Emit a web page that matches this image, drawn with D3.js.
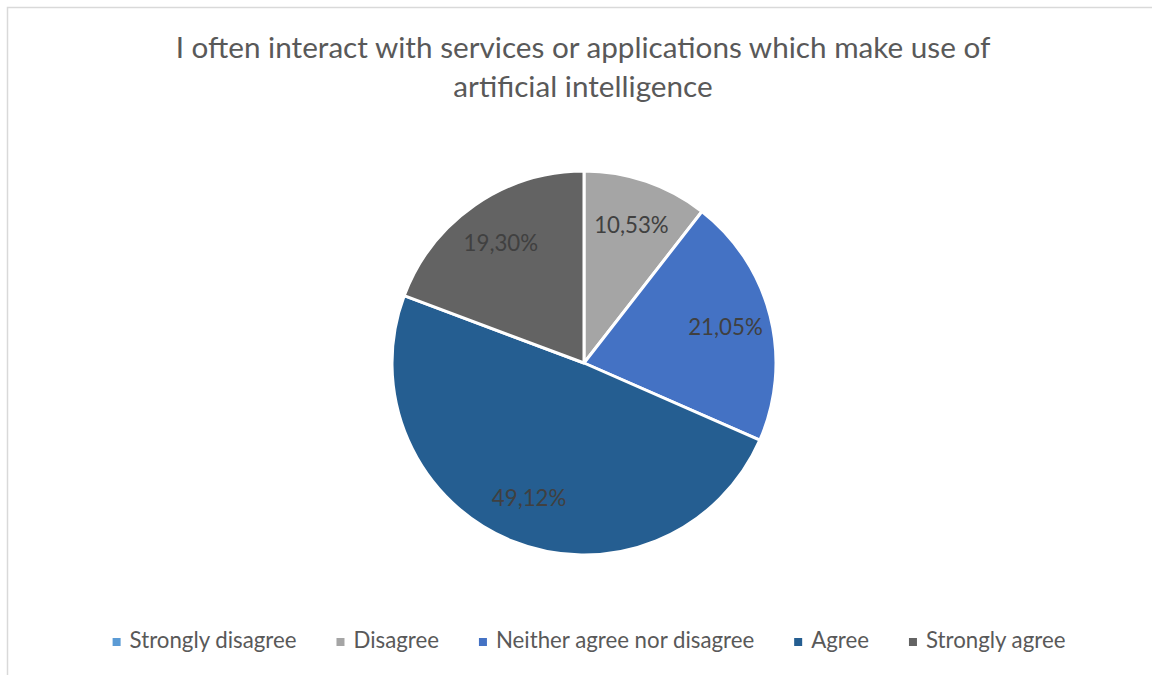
<!DOCTYPE html>
<html>
<head>
<meta charset="utf-8">
<script src="https://cdn.jsdelivr.net/npm/d3@7"></script>
<style>
  html, body { margin: 0; padding: 0; background: #ffffff; }
  svg { display: block; }
</style>
</head>
<body>
<svg id="chart" width="1152" height="675"></svg>
<script>
// Survey answers and their shares (%)
const categories = ["Strongly disagree", "Disagree", "Neither agree nor disagree", "Agree", "Strongly agree"];
const shares = [0, 10.53, 21.05, 49.12, 19.30];
const colors = ["#5B9BD5", "#A5A5A5", "#4472C4", "#255E91", "#636363"];
const titleLines = ["I often interact with services or applications which make use of", "artificial intelligence"];

const FONT = "Lato, 'Open Sans', sans-serif";
const W = 1152, H = 675;
const svg = d3.select("#chart");

// Outer chart-area frame
svg.append("rect")
  .attr("x", 7.5).attr("y", 7.5)
  .attr("width", W + 20).attr("height", H + 20)
  .attr("fill", "#ffffff")
  .attr("stroke", "#D9D9D9").attr("stroke-width", 1.5);

// Font size that makes a string span a given pixel width
function fitSize(text, targetWidth) {
  const t = svg.append("text").attr("font-family", FONT).attr("font-size", 100).text(text);
  const w = t.node().getComputedTextLength();
  t.remove();
  return 100 * targetWidth / w;
}

// Title
const titleSize = fitSize(titleLines[0], 815);
const title = svg.append("g").attr("font-family", FONT).attr("font-size", titleSize)
  .attr("fill", "#595959").attr("text-anchor", "middle");
title.selectAll("text").data(titleLines).join("text")
  .attr("x", 583)
  .attr("y", (d, i) => 57.5 + i * 39)
  .text(d => d);

// Pie
const cx = 584, cy = 363, radius = 192;
const pie = d3.pie().sort(null).value(d => d.value);
const arcs = pie(categories.map((c, i) => ({ name: c, value: shares[i], color: colors[i] })));
const arc = d3.arc().innerRadius(0).outerRadius(radius);
const labelArc = d3.arc().innerRadius(radius * 0.76).outerRadius(radius * 0.76);

const g = svg.append("g").attr("transform", `translate(${cx},${cy})`);
g.selectAll("path").data(arcs.filter(d => d.data.value > 0)).join("path")
  .attr("d", arc)
  .attr("fill", d => d.data.color)
  .attr("stroke", "#ffffff")
  .attr("stroke-width", 3)
  .attr("stroke-linejoin", "round");

const labelSize = fitSize("Strongly disagree", 167);
const fmt = v => v.toFixed(2).replace(".", ",") + "%";
g.selectAll("text.lbl").data(arcs.filter(d => d.data.value > 0)).join("text")
  .attr("class", "lbl")
  .attr("transform", d => `translate(${labelArc.centroid(d)})`)
  .attr("dy", "0.35em")
  .attr("text-anchor", "middle")
  .attr("font-family", FONT)
  .attr("font-size", labelSize)
  .attr("fill", "#404040")
  .text(d => fmt(d.data.value));

// Legend
const legend = svg.append("g").attr("font-family", FONT).attr("font-size", labelSize).attr("fill", "#595959");
const markerSize = 8, markerGap = 9, itemGap = 40;
const items = legend.selectAll("g").data(categories).join("g");
items.append("rect")
  .attr("width", markerSize).attr("height", markerSize)
  .attr("y", 638)
  .attr("fill", (d, i) => colors[i]);
items.append("text")
  .attr("x", markerSize + markerGap)
  .attr("y", 648)
  .text(d => d);
let widths = [];
items.each(function () {
  widths.push(markerSize + markerGap + d3.select(this).select("text").node().getComputedTextLength());
});
const total = d3.sum(widths) + itemGap * (widths.length - 1);
let x = 589 - total / 2;
items.attr("transform", (d, i) => {
  const tx = x;
  x += widths[i] + itemGap;
  return `translate(${tx},0)`;
});
</script>
</body>
</html>
